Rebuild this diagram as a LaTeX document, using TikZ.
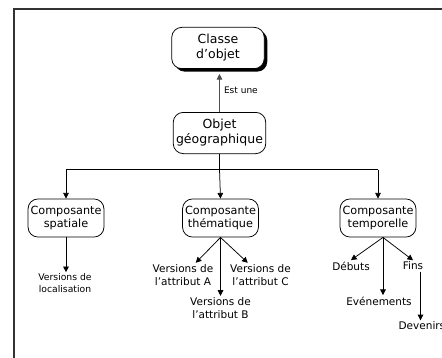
\documentclass[tikz,border=0pt]{standalone}
\usepackage{fontspec}
\setsansfont{DejaVu Sans}
\usetikzlibrary{arrows.meta,shadows,calc}

\begin{document}
\begin{tikzpicture}[x=0.8pt,y=-0.8pt,font=\sffamily,line width=0.6pt]
\tikzset{box/.style={draw,rounded corners=8pt,align=center,fill=white,inner sep=2pt},
topbox/.style={box,minimum width=74pt,minimum height=33pt,font=\sffamily\fontsize{10}{12}\selectfont},
comp/.style={box,minimum width=60pt,minimum height=30.5pt,font=\sffamily\fontsize{9}{10.7}\selectfont},
lbl/.style={align=center,inner sep=1pt,font=\sffamily\fontsize{8.4}{10.4}\selectfont},
arr/.style={-{Triangle[length=4.5pt,width=4.5pt]}}}

\useasboundingbox (0,0) rectangle (442,358);
\draw[line width=1pt,black!80] (442,9) -- (14,9) -- (14,358);

\node[topbox,drop shadow={shadow xshift=2.4pt,shadow yshift=-2.4pt,fill=black,opacity=1}] (classe) at (218,48) {Classe\\d'objet};
\node[topbox] (objet) at (219.5,133) {Objet\\géographique};

\node[comp] (spatiale) at (66,218) {Composante\\spatiale};
\node[comp] (thema) at (220.5,218) {Composante\\thématique};
\node[comp] (tempo) at (378,218) {Composante\\temporelle};

\node[lbl,font=\sffamily\fontsize{7.4}{9}\selectfont] (loc) at (65,283) {Versions de\\localisation};
\node[lbl] (attrA) at (183,275) {Versions de\\l'attribut A};
\node[lbl] (attrC) at (260.5,275) {Versions de\\l'attribut C};
\node[lbl] (attrB) at (220.5,308) {Versions de\\l'attribut B};
\node[lbl] (debuts) at (351,266) {Débuts};
\node[lbl] (fins) at (413,266) {Fins};
\node[lbl] (events) at (379,301) {Evénements};
\node[lbl,anchor=west] (devenirs) at (397,326) {Devenirs};

% lien "est une"
\draw[arr,black!70,shorten >=4pt] (objet.north) -- (objet.north |- classe.south) node[midway,right,black,font=\sffamily\fontsize{7.2}{8}\selectfont] {Est une};

% les trois composantes
\coordinate (busL) at (spatiale.north |- 0,169.5);
\coordinate (busR) at (tempo.north |- 0,169.5);
\draw (objet.south) -- (objet.south |- busL);
\draw (busL) -- (busR);
\draw[arr] (busL) -- (spatiale.north);
\draw[arr] (objet.south |- busL) -- (thema.north);
\draw[arr] (busR) -- (tempo.north);

\draw[arr] (spatiale.south) -- (spatiale.south |- loc.north);

\draw[arr] (thema.south) -- ($(attrA.north)!0.4!(attrA.north east)$);
\draw[arr] (thema.south) -- ($(attrC.north)!0.4!(attrC.north west)$);
\draw[arr] (thema.south) -- (thema.south |- attrB.north);

\coordinate (tfork) at ([xshift=4pt]tempo.south);
\draw[arr] (tfork) -- (debuts.north);
\draw[arr] (tfork) -- (fins.north);
\draw[arr] (tfork) -- (tfork |- events.north);
\draw[arr] ([xshift=6pt]fins.south) -- ([xshift=6pt]fins.south |- devenirs.north);
\end{tikzpicture}
\end{document}
